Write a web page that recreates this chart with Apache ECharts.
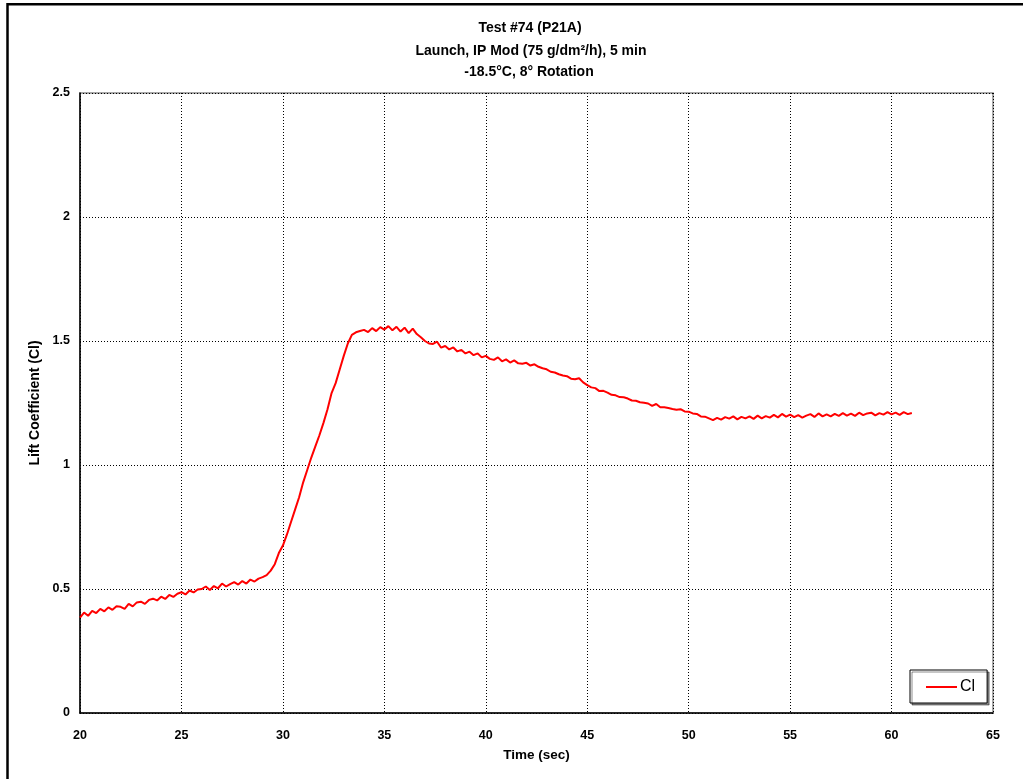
<!DOCTYPE html>
<html>
<head>
<meta charset="utf-8">
<title>Test #74 (P21A)</title>
<script src="https://cdn.jsdelivr.net/npm/echarts@6/dist/echarts.min.js"></script>
<style>
  html, body { margin: 0; padding: 0; background: #fff; }
  #chart { width: 1023px; height: 779px; }
</style>
</head>
<body>
<div id="chart"></div>
<script>
// Lift coefficient record, sampled every 0.2 s starting at t = 20 s
const sampleStart = 20;
const sampleStep = 0.2;
const liftValues = [
  0.385, 0.405, 0.392, 0.412, 0.403,
  0.42, 0.41, 0.426, 0.416, 0.43,
  0.428, 0.42, 0.44, 0.43, 0.446,
  0.449, 0.44, 0.456, 0.461, 0.454,
  0.469, 0.46, 0.476, 0.468, 0.481,
  0.487, 0.478, 0.494, 0.486, 0.498,
  0.50, 0.51, 0.496, 0.512, 0.503,
  0.522, 0.51, 0.52, 0.528, 0.518,
  0.532, 0.522, 0.538, 0.53, 0.542,
  0.548, 0.556, 0.574, 0.60, 0.645,
  0.675, 0.72, 0.77, 0.82, 0.87,
  0.93, 0.98, 1.03, 1.075, 1.12,
  1.17, 1.225, 1.29, 1.33, 1.385,
  1.44, 1.49, 1.525, 1.535, 1.54,
  1.545, 1.536, 1.552, 1.54, 1.556,
  1.546, 1.56, 1.543, 1.557, 1.538,
  1.554, 1.532, 1.55, 1.528, 1.515,
  1.50, 1.49, 1.488, 1.497, 1.473,
  1.48, 1.466, 1.474, 1.458, 1.464,
  1.45, 1.457, 1.443, 1.45, 1.434,
  1.44, 1.428, 1.424, 1.434, 1.418,
  1.426, 1.413, 1.422, 1.41, 1.408,
  1.412, 1.401, 1.406, 1.396, 1.39,
  1.386, 1.376, 1.373, 1.366, 1.361,
  1.358, 1.348, 1.346, 1.35, 1.333,
  1.322, 1.313, 1.31, 1.298, 1.299,
  1.292, 1.283, 1.281, 1.274, 1.273,
  1.268, 1.26, 1.259, 1.253, 1.251,
  1.248, 1.238, 1.246, 1.233, 1.233,
  1.23, 1.226, 1.223, 1.225, 1.216,
  1.215, 1.208, 1.206, 1.196, 1.195,
  1.188, 1.181, 1.19, 1.183, 1.193,
  1.187, 1.196, 1.184, 1.194, 1.188,
  1.196, 1.186, 1.199, 1.188, 1.197,
  1.191, 1.202, 1.192, 1.206, 1.195,
  1.203, 1.193, 1.201, 1.191, 1.199,
  1.205, 1.194, 1.208, 1.196, 1.204,
  1.196, 1.206, 1.198, 1.209, 1.199,
  1.207, 1.198, 1.211, 1.201, 1.208,
  1.211, 1.2, 1.209, 1.203, 1.213,
  1.204, 1.211, 1.202, 1.213, 1.205,
  1.21
];

const xTicks = [20, 25, 30, 35, 40, 45, 50, 55, 60, 65];
const yTicks = [0, 0.5, 1, 1.5, 2, 2.5];

const titleLines = [
  'Test #74 (P21A)',
  'Launch, IP Mod (75 g/dm\u00b2/h), 5 min',
  '-18.5\u00b0C, 8\u00b0 Rotation'
];
const seriesName = 'Cl';
const xAxisName = 'Time (sec)';
const yAxisName = 'Lift Coefficient (Cl)';

const points = liftValues.map((v, i) => [+(sampleStart + i * sampleStep).toFixed(2), v]);

const font = '"Liberation Sans", Arial, sans-serif';
const chart = echarts.init(document.getElementById('chart'), null, { renderer: 'canvas' });

chart.setOption({
  backgroundColor: '#ffffff',
  animation: false,
  title: [
    { text: titleLines[0], left: 530, top: 21, textAlign: 'center', padding: 0,
      textStyle: { fontFamily: font, fontSize: 14, fontWeight: 'bold', color: '#000' } },
    { text: titleLines[1], left: 531, top: 44, textAlign: 'center', padding: 0,
      textStyle: { fontFamily: font, fontSize: 14, fontWeight: 'bold', color: '#000' } },
    { text: titleLines[2], left: 529, top: 65, textAlign: 'center', padding: 0,
      textStyle: { fontFamily: font, fontSize: 14, fontWeight: 'bold', color: '#000' } }
  ],
  graphic: [
    { type: 'rect', shape: { x: 7.5, y: 4.3, width: 1200, height: 1000 },
      style: { fill: 'none', stroke: '#000', lineWidth: 2.5 }, silent: true, z: 100 }
  ],
  legend: {
    data: [seriesName],
    left: 910, top: 670,
    orient: 'vertical',
    padding: [9, 12, 8, 16],
    itemWidth: 31, itemHeight: 2, itemGap: 0,
    icon: 'rect',
    backgroundColor: '#fff',
    borderColor: '#000', borderWidth: 1, borderRadius: 0,
    shadowColor: 'rgba(0,0,0,0.45)', shadowBlur: 0, shadowOffsetX: 2, shadowOffsetY: 2,
    textStyle: { fontFamily: font, fontSize: 16, color: '#000', padding: [0, 0, 0, -2] }
  },
  grid: {
    left: 80, right: 30, top: 93, bottom: 66,
    show: true, borderColor: '#8a8a8a', borderWidth: 1.5, backgroundColor: '#fff'
  },
  xAxis: {
    type: 'value',
    min: xTicks[0], max: xTicks[xTicks.length - 1], interval: 5,
    name: xAxisName, nameLocation: 'middle', nameGap: 35,
    nameTextStyle: { fontFamily: font, fontSize: 13.5, fontWeight: 'bold', color: '#000' },
    axisLine: { show: true, onZero: false, lineStyle: { color: '#000', width: 1.5 } },
    axisTick: { show: false },
    axisLabel: { fontFamily: font, fontSize: 12.5, fontWeight: 'bold', color: '#000', margin: 16 },
    splitLine: { show: true, lineStyle: { color: '#000', width: 1, type: [1, 2] } }
  },
  yAxis: {
    type: 'value',
    min: yTicks[0], max: yTicks[yTicks.length - 1], interval: 0.5,
    name: yAxisName, nameLocation: 'middle', nameGap: 36, nameRotate: 90,
    nameTextStyle: { fontFamily: font, fontSize: 14, fontWeight: 'bold', color: '#000' },
    axisLine: { show: true, onZero: false, lineStyle: { color: '#000', width: 1.5 } },
    axisTick: { show: false },
    axisLabel: { fontFamily: font, fontSize: 12.5, fontWeight: 'bold', color: '#000', margin: 10 },
    splitLine: { show: true, lineStyle: { color: '#000', width: 1, type: [1, 2] } }
  },
  series: [{
    name: seriesName,
    type: 'line',
    data: points,
    showSymbol: false,
    symbol: 'none',
    lineStyle: { color: '#ff0000', width: 2 },
    itemStyle: { color: '#ff0000' }
  }]
});
</script>
</body>
</html>
